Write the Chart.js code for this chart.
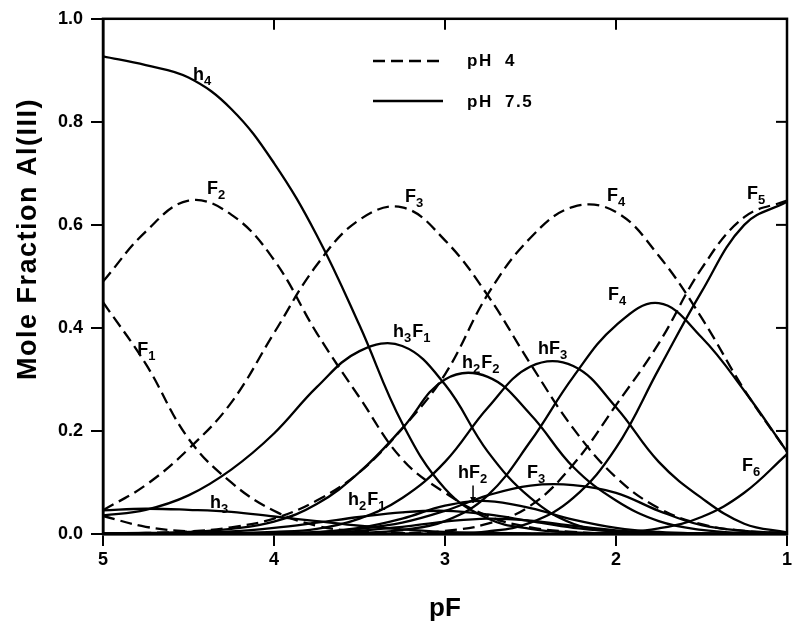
<!DOCTYPE html>
<html><head><meta charset="utf-8">
<script src="https://cdn.jsdelivr.net/npm/chart.js@4/dist/chart.umd.min.js"></script>
<style>html,body{margin:0;padding:0;background:#fff;}#wrap{width:800px;height:630px;}</style>
</head><body><div id="wrap"><canvas id="c" width="800" height="630"></canvas></div>
<script>
// ---- data (pF grid) ----
const pF = [5, 4.75, 4.5, 4.25, 4, 3.75, 3.5, 3.25, 3, 2.75, 2.5, 2.25, 2, 1.75, 1.5, 1.25, 1];

// pH 4 (dashed)
const Al_pH4 = [0.035, 0.014, 0.005, 0.002, 0, 0, 0, 0, 0, 0, 0, 0, 0, 0, 0, 0, 0];
const F1_pH4 = [0.45, 0.33, 0.185, 0.10, 0.045, 0.016, 0.005, 0.002, 0, 0, 0, 0, 0, 0, 0, 0, 0];
const F2_pH4 = [0.49, 0.587, 0.647, 0.62, 0.532, 0.39, 0.265, 0.145, 0.08, 0.035, 0.013, 0.004, 0.001, 0, 0, 0, 0];
const F3_pH4 = [0.046, 0.095, 0.165, 0.255, 0.39, 0.522, 0.61, 0.634, 0.57, 0.463, 0.33, 0.205, 0.11, 0.05, 0.019, 0.006, 0.002];
const F4_pH4 = [0, 0.002, 0.005, 0.013, 0.03, 0.065, 0.12, 0.205, 0.31, 0.465, 0.575, 0.635, 0.625, 0.54, 0.42, 0.28, 0.16];
const F5_pH4 = [0, 0, 0, 0, 0, 0, 0.001, 0.002, 0.006, 0.02, 0.055, 0.135, 0.25, 0.37, 0.515, 0.615, 0.647];

// pH 7.5 (solid)
const h4_pH75   = [0.927, 0.91, 0.886, 0.825, 0.72, 0.58, 0.405, 0.215, 0.088, 0.03, 0.01, 0.003, 0.001, 0, 0, 0, 0];
const h3_pH75   = [0.046, 0.049, 0.047, 0.043, 0.034, 0.025, 0.016, 0.009, 0.004, 0.002, 0.001, 0, 0, 0, 0, 0, 0];
const h3F1_pH75 = [0.036, 0.047, 0.075, 0.125, 0.195, 0.285, 0.355, 0.365, 0.29, 0.16, 0.07, 0.02, 0.005, 0.001, 0, 0, 0];
const h2F2_pH75 = [0.001, 0.002, 0.004, 0.01, 0.024, 0.058, 0.12, 0.205, 0.30, 0.305, 0.232, 0.13, 0.065, 0.025, 0.008, 0.002, 0];
const h2F1_pH75 = [0, 0.001, 0.002, 0.005, 0.012, 0.022, 0.033, 0.042, 0.045, 0.038, 0.025, 0.012, 0.005, 0.001, 0, 0, 0];
const hF3_pH75  = [0, 0, 0.001, 0.002, 0.004, 0.01, 0.03, 0.07, 0.14, 0.245, 0.325, 0.326, 0.246, 0.14, 0.07, 0.02, 0.003];
const hF2_pH75  = [0, 0, 0, 0, 0.001, 0.004, 0.012, 0.03, 0.055, 0.064, 0.05, 0.028, 0.012, 0.004, 0.001, 0, 0];
const F2_pH75   = [0, 0, 0, 0, 0, 0.002, 0.006, 0.014, 0.024, 0.03, 0.026, 0.016, 0.007, 0.002, 0.001, 0, 0];
const F3_pH75   = [0, 0, 0, 0, 0.001, 0.003, 0.01, 0.022, 0.045, 0.075, 0.094, 0.095, 0.08, 0.045, 0.017, 0.006, 0.002];
const F4_pH75   = [0, 0, 0, 0, 0, 0.001, 0.002, 0.008, 0.025, 0.075, 0.18, 0.305, 0.405, 0.448, 0.382, 0.278, 0.16];
const F5_pH75   = [0, 0, 0, 0, 0, 0, 0, 0, 0.001, 0.005, 0.022, 0.07, 0.167, 0.32, 0.47, 0.6, 0.645];
const F6_pH75   = [0, 0, 0, 0, 0, 0, 0, 0, 0, 0, 0, 0.001, 0.003, 0.011, 0.033, 0.08, 0.155];

// axis ticks
const xTicks = [5, 4, 3, 2, 1];
const yTicks = [0, 0.2, 0.4, 0.6, 0.8, 1.0];
const legendLabels = ['pH 4', 'pH 7.5'];

// curve labels ("_" marks a subscript character), anchored in data coordinates
const curveLabels = [
  {t: 'h_4',   pF: 4.474, v: 0.881},
  {t: 'F_2',   pF: 4.392, v: 0.660},
  {t: 'F_3',   pF: 3.234, v: 0.645},
  {t: 'F_4',   pF: 2.053, v: 0.647},
  {t: 'F_5',   pF: 1.234, v: 0.651},
  {t: 'F_1',   pF: 4.800, v: 0.347},
  {t: 'h_3F_1',pF: 3.304, v: 0.382},
  {t: 'h_2F_2',pF: 2.901, v: 0.322},
  {t: 'hF_3',  pF: 2.456, v: 0.349},
  {t: 'F_4',   pF: 2.047, v: 0.455},
  {t: 'F_6',   pF: 1.263, v: 0.123},
  {t: 'hF_2',  pF: 2.924, v: 0.109},
  {t: 'F_3',   pF: 2.520, v: 0.109},
  {t: 'h_3',   pF: 4.374, v: 0.050},
  {t: 'h_2F_1',pF: 3.567, v: 0.056}
];
const arrowFrom = {pF: 2.836, v: 0.094};
const arrowTo   = {pF: 2.836, v: 0.060};

const FONT = '"Liberation Sans", Arial, Helvetica, sans-serif';
const DASH = [12, 6];

function pts(vals){ return pF.map((x, i) => ({x: x, y: vals[i]})); }
function ds(label, vals, dashed){
  return {label: label, data: pts(vals), borderColor: '#000', borderWidth: 2.3,
          borderDash: dashed ? DASH : [], pointRadius: 0, tension: 0.4, fill: false};
}

const datasets = [
  ds('Al pH 4', Al_pH4, true),
  ds('F1 pH 4', F1_pH4, true),
  ds('F2 pH 4', F2_pH4, true),
  ds('F3 pH 4', F3_pH4, true),
  ds('F4 pH 4', F4_pH4, true),
  ds('F5 pH 4', F5_pH4, true),
  ds('h4 pH 7.5', h4_pH75, false),
  ds('h3 pH 7.5', h3_pH75, false),
  ds('h3F1 pH 7.5', h3F1_pH75, false),
  ds('h2F2 pH 7.5', h2F2_pH75, false),
  ds('h2F1 pH 7.5', h2F1_pH75, false),
  ds('hF3 pH 7.5', hF3_pH75, false),
  ds('hF2 pH 7.5', hF2_pH75, false),
  ds('F2 pH 7.5', F2_pH75, false),
  ds('F3 pH 7.5', F3_pH75, false),
  ds('F4 pH 7.5', F4_pH75, false),
  ds('F5 pH 7.5', F5_pH75, false),
  ds('F6 pH 7.5', F6_pH75, false)
];

function drawSubText(ctx, text, x0, y0){
  let x = x0;
  ctx.textBaseline = 'alphabetic';
  ctx.textAlign = 'left';
  for (let i = 0; i < text.length; i++){
    let ch = text[i], sub = false;
    if (ch === '_'){ i++; ch = text[i]; sub = true; }
    ctx.font = sub ? 'bold 13px ' + FONT : 'bold 18px ' + FONT;
    ctx.fillText(ch, x, y0 + (sub ? 5 : 0));
    x += ctx.measureText(ch).width + (sub ? 1 : 0);
  }
}

const deco = {
  id: 'deco',
  afterDraw(chart){
    const {ctx, chartArea: a} = chart;
    const xs = chart.scales.x, ys = chart.scales.y;
    ctx.save();
    ctx.strokeStyle = '#000'; ctx.fillStyle = '#000';
    // frame
    ctx.lineWidth = 2.5; ctx.setLineDash([]);
    ctx.strokeRect(a.left, a.top, a.right - a.left, a.bottom - a.top);
    // inward ticks on top and right
    ctx.lineWidth = 2;
    xTicks.slice(1, -1).forEach(v => {
      const px = xs.getPixelForValue(v);
      ctx.beginPath(); ctx.moveTo(px, a.top); ctx.lineTo(px, a.top + 11); ctx.stroke();
    });
    yTicks.slice(1, -1).forEach(v => {
      const py = ys.getPixelForValue(v);
      ctx.beginPath(); ctx.moveTo(a.right, py); ctx.lineTo(a.right - 11, py); ctx.stroke();
    });
    // y-axis title
    ctx.save();
    ctx.translate(29, 239);
    ctx.rotate(-Math.PI / 2);
    ctx.font = 'bold 27px ' + FONT;
    try { ctx.letterSpacing = '1.5px'; } catch(e) {}
    ctx.textAlign = 'center'; ctx.textBaseline = 'middle';
    ctx.fillText('Mole Fraction Al(III)', 0, 0);
    ctx.restore();
    // legend
    ctx.lineWidth = 2.3;
    ctx.setLineDash(DASH);
    ctx.beginPath(); ctx.moveTo(373, 61); ctx.lineTo(443, 61); ctx.stroke();
    ctx.setLineDash([]);
    ctx.beginPath(); ctx.moveTo(373, 101); ctx.lineTo(443, 101); ctx.stroke();
    ctx.save();
    ctx.font = 'bold 17px ' + FONT;
    try { ctx.letterSpacing = '1.5px'; } catch(e) {}
    ctx.textAlign = 'left'; ctx.textBaseline = 'alphabetic';
    ctx.fillText(legendLabels[0].replace(' ', '  '), 467, 66);
    ctx.fillText(legendLabels[1].replace(' ', '  '), 467, 107);
    ctx.restore();
    // curve labels
    curveLabels.forEach(l => {
      drawSubText(ctx, l.t, xs.getPixelForValue(l.pF), ys.getPixelForValue(l.v));
    });
    // arrow for hF2
    const ax = xs.getPixelForValue(arrowFrom.pF);
    const ay0 = ys.getPixelForValue(arrowFrom.v), ay1 = ys.getPixelForValue(arrowTo.v);
    ctx.lineWidth = 1.5;
    ctx.beginPath(); ctx.moveTo(ax, ay0); ctx.lineTo(ax, ay1); ctx.stroke();
    ctx.beginPath(); ctx.moveTo(ax - 3, ay1 - 6); ctx.lineTo(ax + 3, ay1 - 6); ctx.lineTo(ax, ay1); ctx.closePath(); ctx.fill();
    ctx.restore();
  }
};

new Chart(document.getElementById('c'), {
  type: 'line',
  data: {datasets: datasets},
  options: {
    responsive: false,
    animation: false,
    layout: {padding: {top: 13, right: 13, left: 0, bottom: 0}},
    plugins: {legend: {display: false}, tooltip: {enabled: false}},
    scales: {
      x: {
        type: 'linear', min: 1, max: 5, reverse: true, position: 'bottom',
        afterBuildTicks: s => { s.ticks = xTicks.map(v => ({value: v})); },
        afterFit: s => { s.height = 96; },
        ticks: {color: '#000', font: {family: FONT, size: 18, weight: 'bold'}, padding: 3,
                callback: v => String(v), maxRotation: 0, autoSkip: false},
        grid: {display: true, drawOnChartArea: false, drawTicks: true, tickLength: 12, color: '#000', lineWidth: 2},
        border: {display: true, color: '#000', width: 2.5},
        title: {display: true, text: 'pF', color: '#000', font: {family: FONT, size: 26, weight: 'bold'}, padding: {top: 4, bottom: 6}}
      },
      y: {
        type: 'linear', min: 0, max: 1,
        afterBuildTicks: s => { s.ticks = yTicks.map(v => ({value: v})); },
        afterFit: s => { s.width = 103; },
        ticks: {color: '#000', font: {family: FONT, size: 18, weight: 'bold'}, padding: 8,
                callback: v => Number(v).toFixed(1), autoSkip: false},
        grid: {display: true, drawOnChartArea: false, drawTicks: true, tickLength: 12, color: '#000', lineWidth: 2},
        border: {display: true, color: '#000', width: 2.5},
        title: {display: false}
      }
    }
  },
  plugins: [deco]
});
</script></body></html>
